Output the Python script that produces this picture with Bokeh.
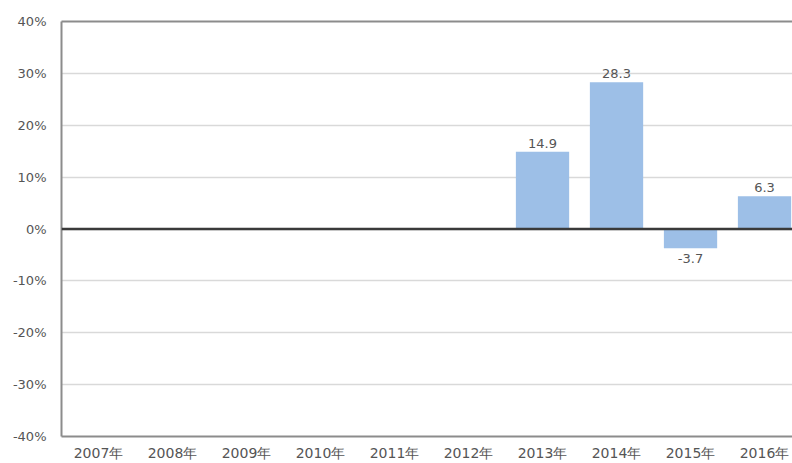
from bokeh.plotting import figure
from bokeh.models import (ColumnDataSource, Range1d, FixedTicker, LinearAxis, Span)
from bokeh.core.properties import value
from bokeh.embed import file_html
from bokeh.resources import INLINE

# ---- data ----
years = ["2007年", "2008年", "2009年", "2010年", "2011年",
         "2012年", "2013年", "2014年", "2015年", "2016年"]
growth = [None, None, None, None, None, None, 14.9, 28.3, -3.7, 6.3]
y_ticks = [-40, -30, -20, -10, 0, 10, 20, 30, 40]
y_tick_labels = ["-40%", "-30%", "-20%", "-10%", "0%", "10%", "20%", "30%", "40%"]

idx = [i for i, v in enumerate(growth) if v is not None]
vals = [growth[i] for i in idx]
pos_idx = [i for i in idx if growth[i] >= 0]
neg_idx = [i for i in idx if growth[i] < 0]

bars = ColumnDataSource(dict(x=idx, top=vals))
pos_lab = ColumnDataSource(dict(x=pos_idx, y=[growth[i] for i in pos_idx],
                                t=[f"{growth[i]:.1f}" for i in pos_idx]))
neg_lab = ColumnDataSource(dict(x=neg_idx, y=[growth[i] for i in neg_idx],
                                t=[f"{growth[i]:.1f}" for i in neg_idx]))

p = figure(width=792, height=463, output_backend="svg", toolbar_location=None,
           x_range=Range1d(-0.5, 9.378), y_range=Range1d(-40, 40),
           min_border_left=61, min_border_right=0, min_border_top=21,
           min_border_bottom=26)
p.outline_line_color = None
p.background_fill_color = "white"

FONT = "DejaVu Sans"
TXT = "#555555"

p.vbar(x="x", top="top", bottom=0, width=0.72, source=bars,
       fill_color="#9dbfe7", line_color=None)

p.text(x="x", y="y", text="t", source=pos_lab, text_align="center",
       text_baseline="bottom", y_offset=-4, text_font=value(FONT),
       text_font_size="13px", text_color=TXT)
p.text(x="x", y="y", text="t", source=neg_lab, text_align="center",
       text_baseline="top", y_offset=6, text_font=value(FONT),
       text_font_size="13px", text_color=TXT)

p.add_layout(Span(location=0, dimension="width", line_color="#3a3a3a",
                  line_width=2.5))

# y axis
ya = p.yaxis[0]
ya.ticker = FixedTicker(ticks=y_ticks)
ya.major_label_overrides = {t: l for t, l in zip(y_ticks, y_tick_labels)}
ya.major_tick_line_color = None
ya.minor_tick_line_color = None
ya.axis_line_color = "#8c8c8c"
ya.axis_line_width = 2
ya.major_label_text_font = FONT
ya.major_label_text_font_size = "13px"
ya.major_label_text_color = TXT
ya.major_label_standoff = 9

# x axis
xa = p.xaxis[0]
xa.ticker = FixedTicker(ticks=list(range(len(years))))
xa.major_label_overrides = {i: y for i, y in enumerate(years)}
xa.major_tick_line_color = None
xa.minor_tick_line_color = None
xa.major_tick_out = 0
xa.major_tick_in = 0
xa.minor_tick_out = 0
xa.axis_line_color = "#8c8c8c"
xa.axis_line_width = 2
xa.major_label_text_font = FONT
xa.major_label_text_font_size = "14px"
xa.major_label_text_color = TXT
xa.major_label_standoff = 8

top_axis = LinearAxis(ticker=FixedTicker(ticks=[]), axis_line_color="#8c8c8c",
                      axis_line_width=2, major_tick_line_color=None,
                      minor_tick_line_color=None,
                      major_label_text_font_size="0px")
p.add_layout(top_axis, "above")

p.xgrid.grid_line_color = None
p.ygrid.ticker = FixedTicker(ticks=y_ticks)
p.ygrid.grid_line_color = "#d9d9d9"
p.ygrid.grid_line_width = 1.5

open("out.html", "w").write(file_html(p, INLINE))
